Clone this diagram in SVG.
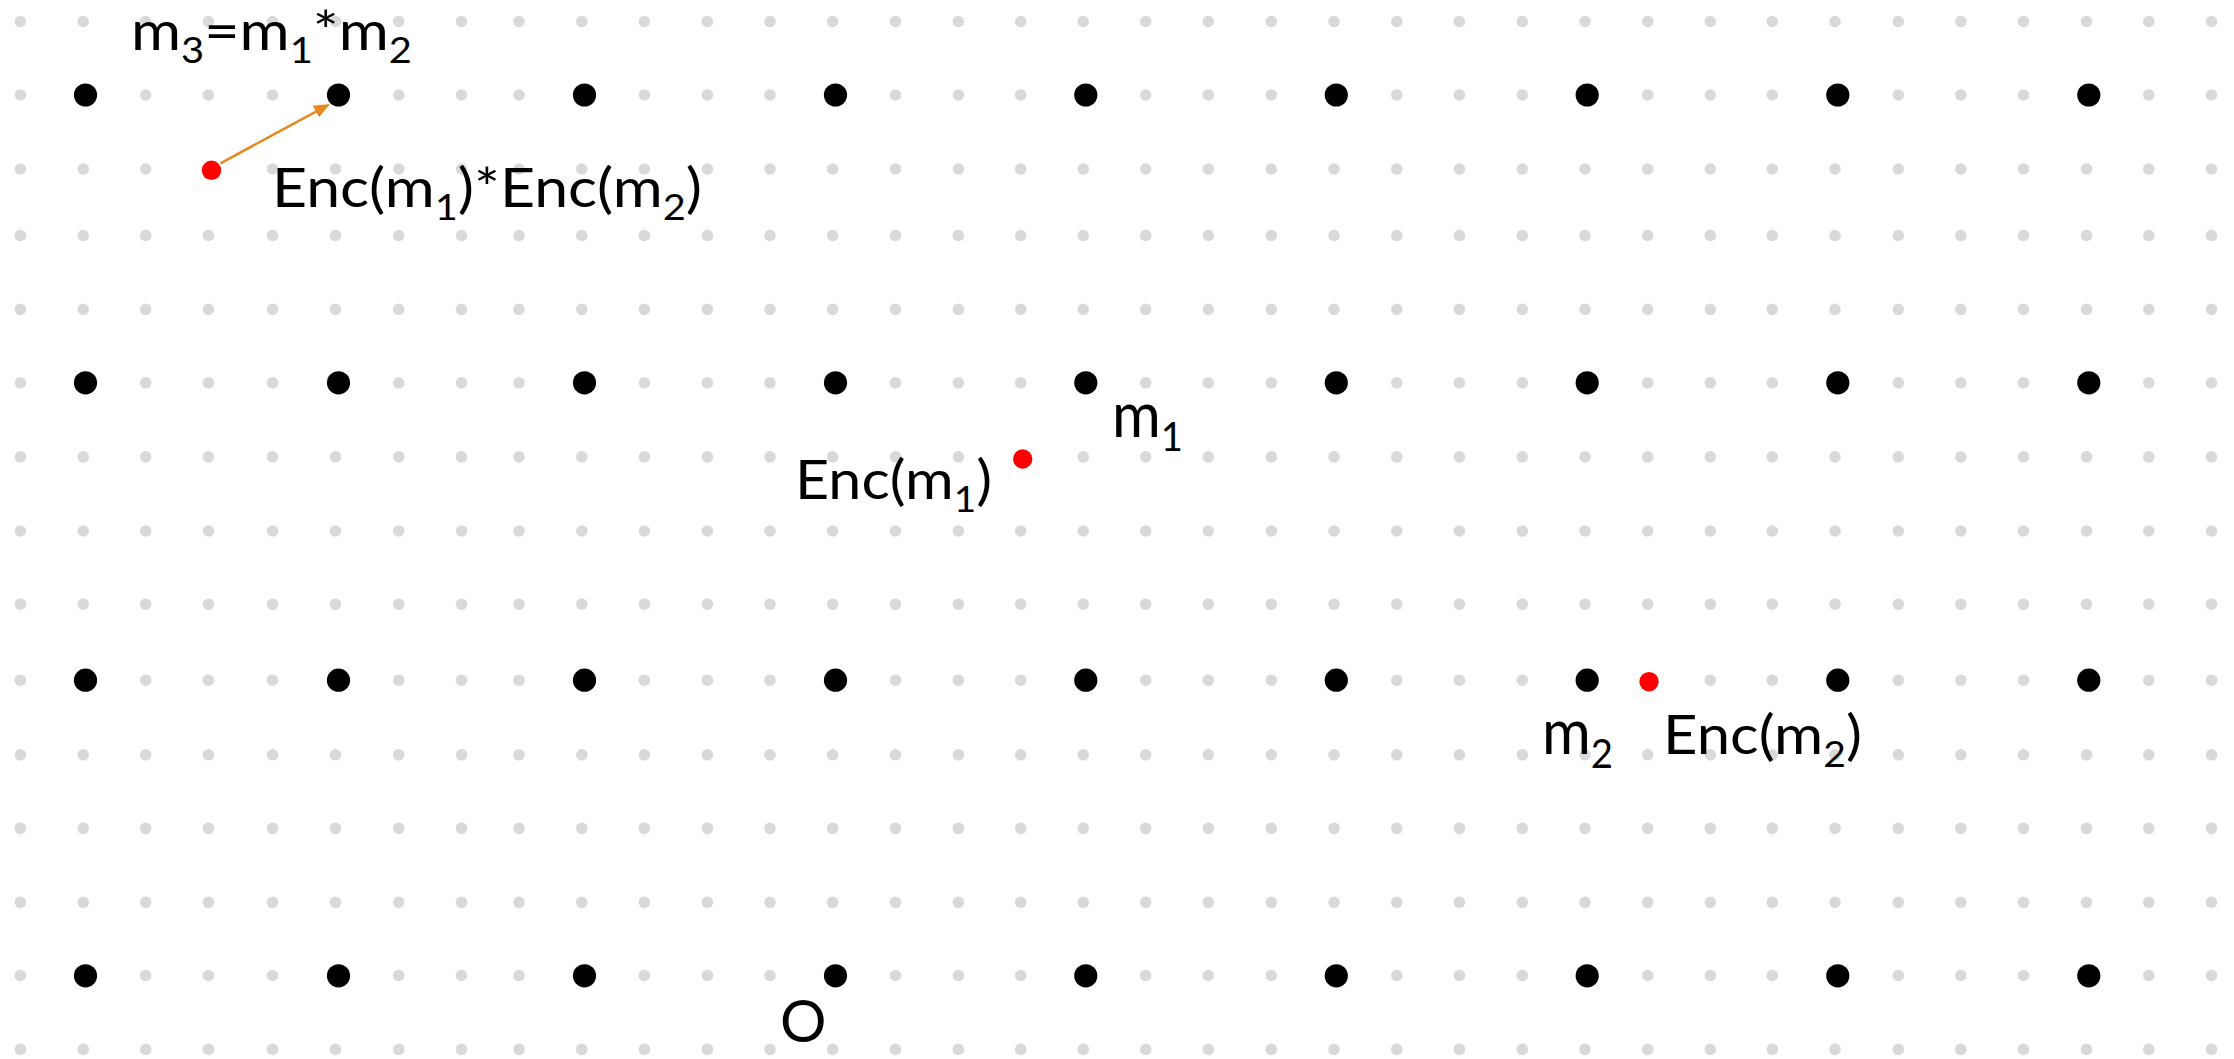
<svg xmlns="http://www.w3.org/2000/svg" width="2234" height="1059" viewBox="0 0 2234 1059">
<style>
.g{fill:#D9D9D9}
.b{fill:#000}
.r{fill:#FF0000}
.t{font-family:Lato,"Liberation Sans",sans-serif;fill:#000}
.conn{stroke:#E58A1F;stroke-width:2.6;fill:none}
</style>
<defs>
<marker id="ah" viewBox="0 0 16 13" refX="0" refY="6.5" markerWidth="16" markerHeight="13" markerUnits="userSpaceOnUse" orient="auto">
<path d="M0,0 L16,6.5 L0,13 z" fill="#E58A1F"/>
</marker>
<g id="grow">
<circle class="g" r="5.8" cx="20.4" cy="0"/><circle class="g" r="5.8" cx="83.2" cy="0"/><circle class="g" r="5.8" cx="145.7" cy="0"/><circle class="g" r="5.8" cx="208.4" cy="0"/><circle class="g" r="5.8" cx="272.5" cy="0"/><circle class="g" r="5.8" cx="335.5" cy="0"/><circle class="g" r="5.8" cx="398.7" cy="0"/><circle class="g" r="5.8" cx="461.5" cy="0"/><circle class="g" r="5.8" cx="519" cy="0"/><circle class="g" r="5.8" cx="581.8" cy="0"/><circle class="g" r="5.8" cx="644.4" cy="0"/><circle class="g" r="5.8" cx="707.4" cy="0"/><circle class="g" r="5.8" cx="770" cy="0"/><circle class="g" r="5.8" cx="832.6" cy="0"/><circle class="g" r="5.8" cx="895.5" cy="0"/><circle class="g" r="5.8" cx="958.4" cy="0"/><circle class="g" r="5.8" cx="1020.7" cy="0"/><circle class="g" r="5.8" cx="1083.2" cy="0"/><circle class="g" r="5.8" cx="1145.7" cy="0"/><circle class="g" r="5.8" cx="1208.3" cy="0"/><circle class="g" r="5.8" cx="1271.3" cy="0"/><circle class="g" r="5.8" cx="1334" cy="0"/><circle class="g" r="5.8" cx="1396.8" cy="0"/><circle class="g" r="5.8" cx="1459.4" cy="0"/><circle class="g" r="5.8" cx="1522.3" cy="0"/><circle class="g" r="5.8" cx="1585" cy="0"/><circle class="g" r="5.8" cx="1647.7" cy="0"/><circle class="g" r="5.8" cx="1710.3" cy="0"/><circle class="g" r="5.8" cx="1772.3" cy="0"/><circle class="g" r="5.8" cx="1835" cy="0"/><circle class="g" r="5.8" cx="1898.3" cy="0"/><circle class="g" r="5.8" cx="1960.8" cy="0"/><circle class="g" r="5.8" cx="2023.5" cy="0"/><circle class="g" r="5.8" cx="2086.5" cy="0"/><circle class="g" r="5.8" cx="2148.8" cy="0"/><circle class="g" r="5.8" cx="2211.5" cy="0"/>
</g>
<g id="brow">
<circle class="b" r="11.6" cx="85.5" cy="0"/><circle class="b" r="11.6" cx="338.5" cy="0"/><circle class="b" r="11.6" cx="584.5" cy="0"/><circle class="b" r="11.6" cx="835.5" cy="0"/><circle class="b" r="11.6" cx="1085.8" cy="0"/><circle class="b" r="11.6" cx="1336.3" cy="0"/><circle class="b" r="11.6" cx="1587.2" cy="0"/><circle class="b" r="11.6" cx="1837.8" cy="0"/><circle class="b" r="11.6" cx="2088.8" cy="0"/>
</g>
</defs>
<rect width="2234" height="1059" fill="#FFFFFF"/>
<g id="background-grid">
<use href="#grow" y="21.5"/><use href="#grow" y="95"/><use href="#grow" y="169"/><use href="#grow" y="235.5"/><use href="#grow" y="309.3"/><use href="#grow" y="382.8"/><use href="#grow" y="456.9"/><use href="#grow" y="531"/><use href="#grow" y="604.2"/><use href="#grow" y="680.2"/><use href="#grow" y="754.8"/><use href="#grow" y="828.4"/><use href="#grow" y="902.3"/><use href="#grow" y="975.5"/><use href="#grow" y="1049.4"/>
</g>
<g id="lattice">
<use href="#brow" y="95"/><use href="#brow" y="382.8"/><use href="#brow" y="680.2"/><use href="#brow" y="975.8"/>
</g>
<g id="connectors">
<line class="conn" x1="220.5" y1="163.3" x2="315.9" y2="111.6" marker-end="url(#ah)"/>
</g>
<g id="node-m3">
<text class="t" x="131" y="50" font-size="55" textLength="281" lengthAdjust="spacingAndGlyphs">m<tspan font-size="36" dy="13">3</tspan><tspan dy="-13">=m</tspan><tspan font-size="36" dy="13">1</tspan><tspan dy="-13">*m</tspan><tspan font-size="36" dy="13">2</tspan></text>
</g>
<g id="node-enc-product">
<circle class="r" r="9.7" cx="211.5" cy="170.3"/>
<text class="t" x="272" y="207" font-size="55" textLength="430" lengthAdjust="spacingAndGlyphs">Enc(m<tspan font-size="36" dy="13">1</tspan><tspan dy="-13">)*Enc(m</tspan><tspan font-size="36" dy="13">2</tspan><tspan dy="-13">)</tspan></text>
</g>
<g id="node-m1">
<text class="t" x="1112" y="437" font-size="62" textLength="71" lengthAdjust="spacingAndGlyphs">m<tspan font-size="40" dy="14">1</tspan></text>
</g>
<g id="node-enc-m1">
<circle class="r" r="9.7" cx="1022.7" cy="459"/>
<text class="t" x="795" y="498.5" font-size="55" textLength="197" lengthAdjust="spacingAndGlyphs">Enc(m<tspan font-size="36" dy="13">1</tspan><tspan dy="-13">)</tspan></text>
</g>
<g id="node-m2">
<text class="t" x="1542" y="753.5" font-size="62" textLength="71" lengthAdjust="spacingAndGlyphs">m<tspan font-size="40" dy="14">2</tspan></text>
</g>
<g id="node-enc-m2">
<circle class="r" r="9.7" cx="1649" cy="681.7"/>
<text class="t" x="1663" y="753.5" font-size="55" textLength="199" lengthAdjust="spacingAndGlyphs">Enc(m<tspan font-size="36" dy="13">2</tspan><tspan dy="-13">)</tspan></text>
</g>
<g id="node-origin">
<text class="t" x="780" y="1042" font-size="58">O</text>
</g>
</svg>
